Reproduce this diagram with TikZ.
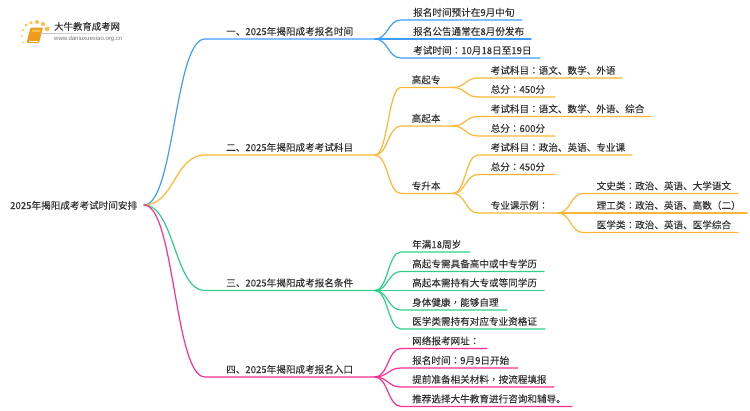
\documentclass[tikz,border=0pt]{standalone}
\usepackage{fontspec}
\setmainfont[FakeBold=0.03]{Noto Sans CJK SC}
\newfontfamily\tcfont[FakeBold=0.03]{Noto Sans CJK TC}
\newfontfamily\urlfont{Liberation Sans}
\usetikzlibrary{fadings,calc}
\definecolor{cblue}{HTML}{3F9DFF}
\definecolor{cyellow}{HTML}{FFB733}
\definecolor{cgreen}{HTML}{2FCF8B}
\definecolor{cpink}{HTML}{FF2F8F}
\definecolor{ctext}{HTML}{333333}
\definecolor{cdot}{HTML}{FBC04A}
\definecolor{cbook}{HTML}{F09A1E}
\newcommand{\cl}{{\tcfont ：}}
\newcommand{\cm}{{\tcfont ，}}
% name, line start x, line y, line end x, text x, text
\newcommand{\topic}[6]{%
  \coordinate (#1-s) at (#2,#3);
  \coordinate (#1-e) at (#4,#3);
  \node[lbl] (#1) at (#5,#3-4) {#6};
}
\tikzset{
  lbl/.style={anchor=base west,inner sep=0pt,text=ctext,font=\fontsize{9.6}{12}\selectfont},
  conn/.style={line width=1.2pt,line cap=round,line join=round},
}
\begin{document}
\begin{tikzpicture}[x=1pt,y=-1pt]
\useasboundingbox (0,0) rectangle (750,410);
% logo
\foreach \px/\py/\r in {23/42.5/0.8,21.8/36/1.0,23/30/1.2,26/25/1.5,31/22.8/1.8,37/22/2.0,43/24/2.1,47.3/29/2.4}
  \fill[cdot] (\px,\py) circle (\r);
\fill[cbook,rounded corners=1pt] (30.5,27.5) -- (43,27.5) -- (39,43) -- (26.5,43) -- cycle;
\fill[cdot] (32.5,29.5) -- (41,29.5) -- (40.3,32) -- (31.8,32) -- cycle;
\draw[white,line width=0.5pt] (28.5,41) -- (38,41);
\fill[black!25,path fading=east] (40,33) rectangle (133,33.6);
\node[lbl,font=\fontsize{9.4}{11}\selectfont] (logotext) at (54,30) {大牛教育成考网};
\node[lbl,font=\urlfont\fontsize{6}{7}\selectfont,text=black!55] (logourl) at (54,40.5) {www.daniuxuexiao.org.cn};
% root
\node[lbl] (root) at (10,209) {2025年揭阳成考考试时间安排};
\coordinate (root-e) at (144,205);
% level 1
\topic{a}{205}{39}{375}{226}{一、2025年揭阳成考报名时间}
\topic{b}{205}{155}{375}{226}{二、2025年揭阳成考考试科目}
\topic{c}{205}{290.5}{375}{226}{三、2025年揭阳成考报名条件}
\topic{d}{205}{377}{375}{226}{四、2025年揭阳成考报名入口}
% branch a
\topic{a1}{401}{20}{522}{413}{报名时间预计在9月中旬}
\topic{a2}{401}{39}{531}{413}{报名公告通常在8月份发布}
\topic{a3}{401}{58}{540}{413}{考试时间\cl 10月18日至19日}
% branch b
\topic{b1}{401}{87.5}{453}{411.5}{高起专}
\topic{b2}{401}{126}{453}{411.5}{高起本}
\topic{b3}{401}{193.5}{453}{411.5}{专升本}
\topic{b11}{478}{78}{622}{490.5}{考试科目\cl 语文、数学、外语}
\topic{b12}{478}{97}{555}{490.5}{总分\cl 450分}
\topic{b21}{478}{116.5}{651}{490.5}{考试科目\cl 语文、数学、外语、综合}
\topic{b22}{478}{136}{555}{490.5}{总分\cl 600分}
\topic{b31}{478}{155}{632}{490.5}{考试科目\cl 政治、英语、专业课}
\topic{b32}{478}{174.5}{555}{490.5}{总分\cl 450分}
\topic{b33}{478}{213}{558}{490.5}{专业课示例\cl}
\topic{b331}{583}{193.5}{738}{596.5}{文史类\cl 政治、英语、大学语文}
\topic{b332}{583}{213}{747}{596.5}{理工类\cl 政治、英语、高数（二）}
\topic{b333}{583}{232.5}{738}{596.5}{医学类\cl 政治、英语、医学综合}
% branch c
\topic{c1}{401}{252}{470}{412}{年满18周岁}
\topic{c2}{401}{271.5}{544}{412}{高起专需具备高中或中专学历}
\topic{c3}{401}{290.5}{544}{412}{高起本需持有大专或等同学历}
\topic{c4}{401}{310}{507}{412}{身体健康\cm 能够自理}
\topic{c5}{401}{329}{545}{412}{医学类需持有对应专业资格证}
% branch d
\topic{d1}{401}{348.5}{487}{412}{网络报考网址\cl}
\topic{d2}{401}{368}{518}{412}{报名时间\cl 9月9日开始}
\topic{d3}{401}{387}{554}{412}{提前准备相关材料\cm 按流程填报}
\topic{d4}{401}{406.5}{572}{412}{推荐选择大牛教育进行咨询和辅导。}
% connectors
\newcommand{\cv}[2]{%
  \path let \p1=(#1), \p2=(#2-s), \n1={0.5*(\x2-\x1)} in
    coordinate (tmpa) at (\x1+\n1,\y1) coordinate (tmpb) at (\x2-\n1,\y2);
  \draw[conn] (#1) .. controls (tmpa) and (tmpb) .. (#2-s) -- (#2-e);
}
\begin{scope}[cblue]
\cv{root-e}{a}
\cv{a-e}{a1}\cv{a-e}{a2}\cv{a-e}{a3}
\end{scope}
\begin{scope}[cyellow]
\cv{root-e}{b}
\cv{b-e}{b1}\cv{b-e}{b2}\cv{b-e}{b3}
\cv{b1-e}{b11}\cv{b1-e}{b12}
\cv{b2-e}{b21}\cv{b2-e}{b22}
\cv{b3-e}{b31}\cv{b3-e}{b32}\cv{b3-e}{b33}
\cv{b33-e}{b331}\cv{b33-e}{b332}\cv{b33-e}{b333}
\end{scope}
\begin{scope}[cgreen]
\cv{root-e}{c}
\cv{c-e}{c1}\cv{c-e}{c2}\cv{c-e}{c3}\cv{c-e}{c4}\cv{c-e}{c5}
\end{scope}
\begin{scope}[cpink]
\cv{root-e}{d}
\cv{d-e}{d1}\cv{d-e}{d2}\cv{d-e}{d3}\cv{d-e}{d4}
\end{scope}
\end{tikzpicture}
\end{document}
